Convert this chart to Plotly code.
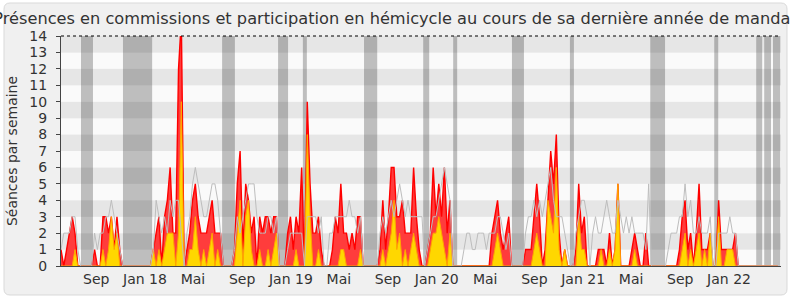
import pandas as pd
import plotly.graph_objects as go

# ---------------- data ----------------
start_date = "2017-06-05"
n_weeks = 257
weeks = pd.date_range(start_date, periods=n_weeks, freq="7D")

commission_presences = (
    [1, 0, 1, 2, 3, 2, 0] + [0] * 5
    + [1, 0, 0, 3, 3, 2, 3, 1, 3, 1] + [0] * 11
    + [1, 2, 3, 0, 3, 4, 6, 2, 2, 12, 15, 0, 1, 2, 4, 5, 3, 2, 2, 2, 3, 4, 2, 2, 2] + [0] * 4
    + [1, 5, 7, 1, 5, 4, 2, 3, 0, 3, 2, 3, 3, 2, 3, 3] + [0] * 3
    + [2, 3, 1, 3, 2, 6, 0, 10, 5, 2, 2, 3, 1, 0, 0, 0, 1, 3, 2, 5, 2, 2, 1, 2, 1, 3, 3] + [0] * 5
    + [0, 1, 4, 1, 3, 6, 6, 3, 3, 4, 2, 2, 2, 6, 3, 1, 0] + [0]
    + [1, 2, 6, 3, 5, 3, 6, 2, 4] + [0]
    + [0] * 13 + [2, 3, 4, 2, 1, 2, 3] + [0] * 4
    + [0, 1, 1, 1, 3, 5, 3, 0, 1, 4, 7, 5, 8, 2, 0, 1, 0] + [0]
    + [0, 1, 5, 2, 3, 0, 0, 0, 0, 1, 1, 1, 0, 2, 0, 1, 5, 0, 0, 0, 0, 1, 2, 1, 0, 0, 2] + [0] + [0] * 5
    + [0, 0, 0, 0, 0, 1, 3, 4, 1, 2, 0, 2, 5, 1, 1, 1, 2] + [0, 0]
    + [4, 1, 1, 1, 1, 1, 2, 0] + [0] * 14
)

commission_interventions = (
    [0, 0, 0, 0, 0, 1, 0] + [0] * 5
    + [0, 0, 0, 1, 0, 1, 3, 1, 2, 0] + [0] * 11
    + [1, 0, 1, 0, 1, 2, 2, 2, 0, 2, 10, 0, 0, 1, 1, 3, 1, 0, 1, 0, 1, 2, 0, 1, 0] + [0] * 4
    + [0, 2, 4, 0, 3, 4, 1, 0, 0, 1, 0, 0, 1, 0, 1, 2] + [0] * 3
    + [0, 0, 0, 1, 0, 0, 0, 8, 3, 0, 0, 1, 0, 0, 0, 0, 0, 0, 0, 1, 1, 0, 0, 0, 0, 0, 1] + [0] * 5
    + [0, 0, 1, 0, 1, 2, 4, 1, 2, 0, 1, 0, 1, 2, 1, 0, 0] + [0]
    + [0, 1, 2, 2, 3, 2, 1, 0, 2] + [0]
    + [0] * 13 + [0, 1, 2, 1, 0, 0, 0] + [0] * 4
    + [0, 0, 0, 0, 1, 2, 1, 0, 0, 4, 3, 2, 6, 1, 0, 1, 0] + [0]
    + [0, 0, 3, 1, 1, 0, 0, 0, 0, 0, 1, 0, 0, 1, 0, 1, 5, 0, 0, 0, 0, 0, 1, 0, 0, 0, 0] + [0] + [0] * 5
    + [0, 0, 0, 0, 0, 0, 1, 2, 0, 1, 0, 1, 2, 0, 1, 0, 2] + [0, 0]
    + [3, 0, 0, 1, 1, 1, 0, 0] + [0] * 14
)

hemicycle_participation = (
    [1, 2, 2, 2, 3, 3, 1] + [0] * 5
    + [2, 1, 2, 2, 3, 3, 4, 3, 2, 1] + [0] * 11
    + [1, 4, 3, 2, 3, 2, 4, 3, 4, 4, 2, 0, 2, 3, 5, 6, 5, 4, 3, 3, 4, 5, 5, 4, 2] + [0] * 4
    + [1, 3, 2, 3, 4, 5, 5, 5, 3, 2, 2, 2, 3, 3, 2, 3] + [0] * 3
    + [1, 2, 2, 2, 2, 2, 0, 3, 3, 3, 3, 2, 3, 0, 0, 2, 2, 3, 3, 3, 3, 3, 4, 3, 3, 2, 3] + [0] * 5
    + [0, 2, 3, 2, 3, 4, 3, 4, 5, 4, 3, 4, 3, 3, 3, 3, 3] + [0]
    + [1, 2, 3, 3, 4, 5, 6, 5, 4] + [0]
    + [0, 0, 0, 1, 2, 2, 1, 1, 2, 2, 2, 1, 2, 2, 2, 3, 3, 2, 1, 2] + [0] * 4
    + [0, 2, 3, 3, 4, 3, 4, 3, 4, 5, 6, 4, 3, 3, 3, 2, 1] + [0]
    + [0, 2, 3, 4, 4, 3, 0, 2, 3, 2, 2, 3, 4, 3, 2, 2, 4, 3, 2, 3, 2, 3, 2, 2, 2, 2, 1] + [5] + [0] * 5
    + [0, 1, 2, 2, 2, 3, 3, 5, 3, 4, 2, 2, 3, 2, 2, 2, 3] + [0, 0]
    + [2, 2, 2, 2, 3, 2, 2, 0] + [0] * 14
)

vacation_starts = ["2017-07-25", "2017-11-07", "2018-07-13", "2018-11-30", "2019-01-31",
                   "2019-07-03", "2019-11-28", "2020-02-11", "2020-07-07", "2020-11-29",
                   "2021-06-18", "2021-11-25", "2022-03-10", "2022-03-30", "2022-04-21"]
vacation_ends = ["2017-08-24", "2018-01-19", "2018-08-14", "2018-12-25", "2019-02-10",
                 "2019-08-05", "2019-12-13", "2020-02-21", "2020-08-06", "2020-12-09",
                 "2021-07-25", "2021-12-05", "2022-03-25", "2022-04-16", "2022-05-09"]

tick_dates = ["2017-09-01", "2018-01-01", "2018-05-01", "2018-09-01", "2019-01-01",
              "2019-05-01", "2019-09-01", "2020-01-01", "2020-05-01", "2020-09-01",
              "2021-01-01", "2021-05-01", "2021-09-01", "2022-01-01"]
tick_labels = ["Sep", "Jan 18", "Mai", "Sep", "Jan 19", "Mai", "Sep", "Jan 20",
               "Mai", "Sep", "Jan 21", "Mai", "Sep", "Jan 22"]

y_max = 14
x_end = "2022-05-11"

# ---------------- figure ----------------
W, H = 790, 300
ML, MR, MT, MB = 61, 9, 36, 34
pw, ph = W - ML - MR, H - MT - MB

def px2paper_x(px):
    return (px - ML) / pw

def px2paper_y(py):
    return (H - MB - py) / ph

shapes = []
# rounded background box
x0, x1 = px2paper_x(4), px2paper_x(787)
y0, y1 = px2paper_y(295), px2paper_y(3)
rx, ry = 6 / pw, 6 / ph
path = (f"M {x0+rx},{y1} L {x1-rx},{y1} Q {x1},{y1} {x1},{y1-ry} "
        f"L {x1},{y0+ry} Q {x1},{y0} {x1-rx},{y0} L {x0+rx},{y0} "
        f"Q {x0},{y0} {x0},{y0+ry} L {x0},{y1-ry} Q {x0},{y1} {x0+rx},{y1} Z")
shapes.append(dict(type="path", path=path, xref="paper", yref="paper",
                   fillcolor="#f0f0f0", line=dict(color="#d9d9d9", width=1), layer="below"))
# horizontal stripes
for k in range(y_max):
    shapes.append(dict(type="rect", xref="paper", yref="y", x0=0, x1=1, y0=k, y1=k + 1,
                       fillcolor="#e6e6e6" if k % 2 == 1 else "#fafafa",
                       line=dict(width=0), layer="below"))
# vacation bands
for s, e in zip(vacation_starts, vacation_ends):
    shapes.append(dict(type="rect", xref="x", yref="paper", x0=s, x1=e, y0=0, y1=1,
                       fillcolor="rgba(0,0,0,0.24)", line=dict(width=0), layer="below"))
# dotted top line
shapes.append(dict(type="line", xref="paper", yref="paper", x0=0, x1=1, y0=1, y1=1,
                   line=dict(color="#000000", width=1, dash="dot"), layer="above"))

fig = go.Figure()
fig.add_trace(go.Scatter(x=weeks, y=commission_presences, mode="lines", fill="tozeroy",
                         fillcolor="#ff3c3c", line=dict(color="#ff0000", width=1.4),
                         name="Présences en commission", hoverinfo="skip"))
fig.add_trace(go.Scatter(x=weeks, y=commission_interventions, mode="lines", fill="tozeroy",
                         fillcolor="#ffd700", line=dict(color="#ffa500", width=1),
                         name="Interventions en commission", hoverinfo="skip"))
fig.add_trace(go.Scatter(x=weeks, y=hemicycle_participation, mode="lines",
                         line=dict(color="#bdbdbd", width=1),
                         name="Participation en hémicycle", hoverinfo="skip"))

font_family = "DejaVu Sans"
fig.update_layout(
    width=W, height=H,
    margin=dict(l=ML, r=MR, t=MT, b=MB),
    paper_bgcolor="#ffffff", plot_bgcolor="#fafafa",
    showlegend=False,
    font=dict(family=font_family, color="#333333", size=14),
    title=dict(text="Présences en commissions et participation en hémicycle au cours de sa dernière année de mandat",
               x=0.5, xref="container", xanchor="center", y=0.94, yref="container", yanchor="middle",
               font=dict(family=font_family, size=16.2, color="#333333")),
    shapes=shapes,
    xaxis=dict(type="date", range=[start_date, x_end], tickvals=tick_dates, ticktext=tick_labels,
               showgrid=False, zeroline=False, showline=True, linecolor="#444444", linewidth=1,
               ticks="", tickfont=dict(size=14, color="#333333"), fixedrange=True),
    yaxis=dict(range=[0, y_max], dtick=1, tick0=0, showgrid=False, zeroline=False,
               showline=True, linecolor="#444444", linewidth=1,
               ticks="outside", ticklen=4, tickcolor="#444444",
               tickfont=dict(size=14, color="#333333"), ticklabelstandoff=6,
               title=dict(text="Séances par semaine", font=dict(size=14, color="#333333"), standoff=8),
               fixedrange=True),
)

fig.write_html("out.html")
